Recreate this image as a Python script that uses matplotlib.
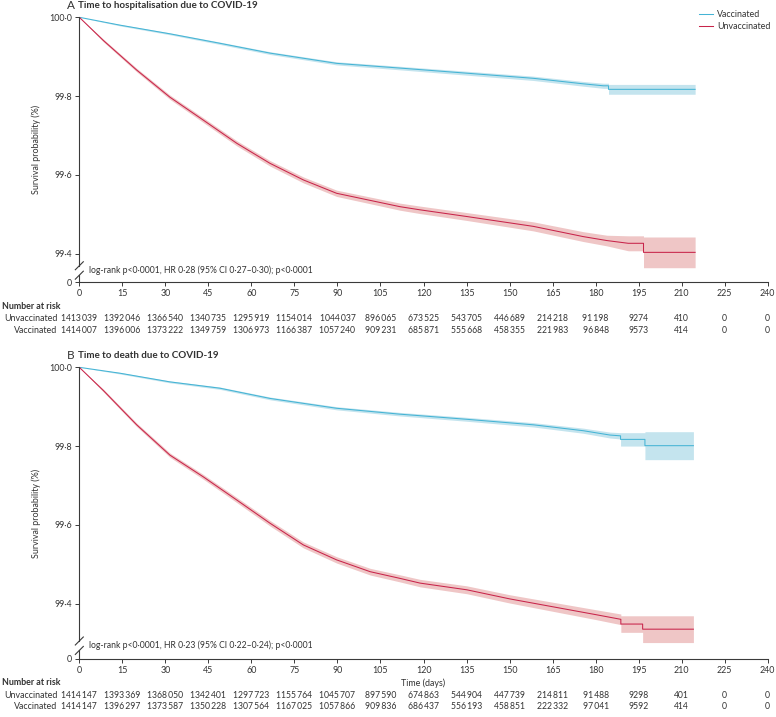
import matplotlib.pyplot as plt
import matplotlib.transforms as mtransforms

plt.rcParams['font.family'] = ['Lato', 'DejaVu Sans']

# ---- data ----
# panel A: time to hospitalisation
a_vac_days = [0, 14.2, 31.6, 49, 66.5, 89.7, 111.8, 135.1, 158.3, 175.7, 182.7, 184.5, 184.5, 214.7]
a_vac_surv = [100, 99.980, 99.958, 99.934, 99.909, 99.883, 99.871, 99.858, 99.845, 99.831, 99.826, 99.826, 99.817, 99.817]
a_vac_ci = [0, 0.002, 0.0025, 0.003, 0.0035, 0.004, 0.0045, 0.005, 0.0055, 0.006, 0.0065, 0.0065, 0.0125, 0.0125]

a_unv_days = [0, 8.4, 20, 31.6, 43.2, 54.9, 66.5, 78.1, 89.7, 101.4, 111.8, 118.8, 135.1, 158.3, 175.7,
              183.9, 191.4, 196.7, 196.7, 214.7]
a_unv_surv = [100, 99.941, 99.866, 99.797, 99.739, 99.680, 99.629, 99.587, 99.553, 99.535, 99.519, 99.511,
              99.494, 99.469, 99.443, 99.433, 99.426, 99.426, 99.403, 99.403]
a_unv_ci = [0, 0.0035, 0.0045, 0.0055, 0.006, 0.0065, 0.007, 0.0075, 0.008, 0.0085, 0.009, 0.0095, 0.010,
            0.0115, 0.0125, 0.0135, 0.019, 0.019, 0.039, 0.039]

# panel B: time to death
b_vac_days = [0, 14.2, 31.6, 49, 66.5, 89.7, 111.8, 135.1, 158.3, 175.7, 185, 188.7, 188.7, 197.2, 197.2, 214.1]
b_vac_surv = [100, 99.985, 99.963, 99.947, 99.921, 99.896, 99.881, 99.868, 99.854, 99.839, 99.828, 99.826,
              99.817, 99.817, 99.801, 99.801]
b_vac_ci = [0, 0.002, 0.0025, 0.003, 0.0035, 0.004, 0.0045, 0.005, 0.0055, 0.0065, 0.0075, 0.008, 0.017,
            0.017, 0.0355, 0.0355]

b_unv_days = [0, 8.4, 20, 31.6, 43.2, 54.9, 66.5, 78.1, 89.7, 101.4, 111.8, 118.8, 135.1, 150, 165, 180,
              188.8, 188.8, 196.4, 196.4, 214.1]
b_unv_surv = [100, 99.941, 99.854, 99.777, 99.722, 99.663, 99.604, 99.549, 99.511, 99.481, 99.464, 99.452,
              99.435, 99.412, 99.392, 99.372, 99.360, 99.348, 99.348, 99.335, 99.335]
b_unv_ci = [0, 0.0035, 0.0045, 0.0055, 0.006, 0.0065, 0.007, 0.0075, 0.008, 0.0085, 0.009, 0.0095, 0.010,
            0.0105, 0.0115, 0.0125, 0.0135, 0.021, 0.021, 0.034, 0.034]

# number at risk
risk_days = [0, 15, 30, 45, 60, 75, 90, 105, 120, 135, 150, 165, 180, 195, 210, 225, 240]
a_risk_unv = [1413039, 1392046, 1366540, 1340735, 1295919, 1154014, 1044037, 896065, 673525, 543705,
              446689, 214218, 91198, 9274, 410, 0, 0]
a_risk_vac = [1414007, 1396006, 1373222, 1349759, 1306973, 1166387, 1057240, 909231, 685871, 555668,
              458355, 221983, 96848, 9573, 414, 0, 0]
b_risk_unv = [1414147, 1393369, 1368050, 1342401, 1297723, 1155764, 1045707, 897590, 674863, 544904,
              447739, 214811, 91488, 9298, 401, 0, 0]
b_risk_vac = [1414147, 1396297, 1373587, 1350228, 1307564, 1167025, 1057866, 909836, 686437, 556193,
              458851, 222332, 97041, 9592, 414, 0, 0]

ytick_vals = [99.4, 99.6, 99.8, 100.0]
ytick_text = ['99·4', '99·6', '99·8', '100·0']

BLUE = '#45b4d5'
RED = '#c8244a'
BLUE_CI = '#c4e4ee'
RED_CI = '#efc6c6'
AX = '#3a3a3a'
TXT = '#333333'
FS = 6.4
FS_TAB = 6.2


def fmt(n):
    # journal style: a thin space before the last three digits only
    if n >= 10000:
        return f'{n // 1000}\u2009{n % 1000:03d}'
    return str(n)


fig = plt.figure(figsize=(7.76, 7.17), dpi=100)


def panel(rect, letter, title, vac, unv, ymin, brk, logrank, risk, xlabel):
    ax = fig.add_axes(rect)
    for (d, s, c), col, cicol, lab in ((vac, BLUE, BLUE_CI, 'Vaccinated'), (unv, RED, RED_CI, 'Unvaccinated')):
        lo = [v - h for v, h in zip(s, c)]
        hi = [v + h for v, h in zip(s, c)]
        ax.fill_between(d, lo, hi, color=cicol, lw=0, zorder=1)
        ax.plot(d, s, color=col, lw=0.75, label=lab, zorder=2)

    ax.set_xlim(0, 240)
    ax.set_ylim(ymin, 100.0)
    ax.set_xticks(risk_days)
    ax.set_xticklabels([str(d) for d in risk_days])
    ax.set_yticks([ymin] + ytick_vals)
    ax.set_yticklabels(['0'] + ytick_text)
    ax.tick_params(length=3, width=0.7, color=AX, labelsize=FS, labelcolor=TXT, pad=2)
    for sp in ('top', 'right'):
        ax.spines[sp].set_visible(False)
    for sp in ('left', 'bottom'):
        ax.spines[sp].set_color(AX)
        ax.spines[sp].set_linewidth(0.8)

    # broken y axis
    ax.spines['left'].set_bounds(brk[0], 100.0)
    ax.plot([0, 0], [ymin, brk[1]], color=AX, lw=0.8, clip_on=False, zorder=3)
    pos = ax.get_position()
    wpx = pos.width * fig.get_figwidth() * fig.dpi
    hpx = pos.height * fig.get_figheight() * fig.dpi
    for yb in brk:
        yf = (yb - ymin) / (100.0 - ymin)
        ax.plot([-4 / wpx, 4 / wpx], [yf - 4 / hpx, yf + 4 / hpx], color=AX, lw=0.8,
                transform=ax.transAxes, clip_on=False)

    ax.set_ylabel('Survival probability (%)', fontsize=FS, color=TXT, labelpad=6)
    if xlabel:
        ax.set_xlabel('Time (days)', fontsize=FS, color=TXT, labelpad=3)

    ax.text(3.5, (brk[0] + brk[1]) / 2, logrank, fontsize=6.2, color=TXT, va='center', ha='left')

    # title
    top = pos.y1
    fig.text(67 / 776, top + 12 / 717, letter, fontsize=8.5, color=TXT, va='center', ha='left')
    fig.text(78 / 776, top + 12 / 717, title, fontsize=7.1, fontweight='bold', color=TXT,
             va='center', ha='left')

    # number at risk table
    tr = mtransforms.blended_transform_factory(ax.transData, fig.transFigure)
    y0 = pos.y0
    ys = [y0 - 24 / 717, y0 - 36.5 / 717, y0 - 48 / 717]
    fig.text(0.002, ys[0], 'Number at risk', fontsize=FS, fontweight='bold', color=TXT,
             va='center', ha='left')
    for row, (lab, vals) in enumerate(risk):
        fig.text(57.5 / 776, ys[row + 1], lab, fontsize=FS, color=TXT, va='center', ha='right')
        for d, v in zip(risk_days, vals):
            ax.text(d, ys[row + 1], fmt(v), fontsize=FS_TAB, color=TXT, va='center', ha='center',
                    transform=tr, clip_on=False)
    return ax


axA = panel([0.1022, 0.6063, 0.8871, 0.3696], 'A', 'Time to hospitalisation due to COVID-19',
            (a_vac_days, a_vac_surv, a_vac_ci), (a_unv_days, a_unv_surv, a_unv_ci),
            99.327, (99.369, 99.345),
            'log-rank p<0·0001, HR 0·28 (95% CI 0·27–0·30); p<0·0001',
            [('Unvaccinated', a_risk_unv), ('Vaccinated', a_risk_vac)], False)

axB = panel([0.1022, 0.0813, 0.8871, 0.4064], 'B', 'Time to death due to COVID-19',
            (b_vac_days, b_vac_surv, b_vac_ci), (b_unv_days, b_unv_surv, b_unv_ci),
            99.260, (99.305, 99.281),
            'log-rank p<0·0001, HR 0·23 (95% CI 0·22–0·24); p<0·0001',
            [('Unvaccinated', b_risk_unv), ('Vaccinated', b_risk_vac)], True)

fig.legend(*axA.get_legend_handles_labels(), loc='upper left', bbox_to_anchor=(699 / 776, 1 - 10 / 717),
           frameon=False, fontsize=FS, handlelength=1.6, handletextpad=0.4, labelspacing=0.35,
           borderpad=0, borderaxespad=0, labelcolor=TXT)

fig.savefig('out.png', dpi=100)
